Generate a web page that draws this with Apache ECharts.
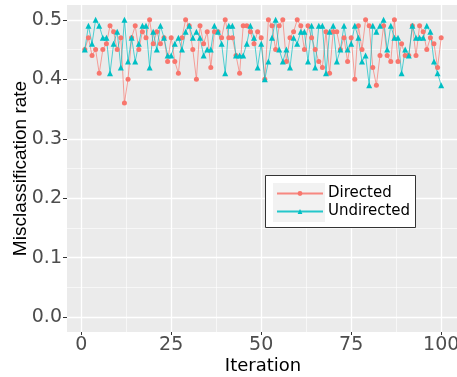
<!DOCTYPE html>
<html>
<head>
<meta charset="utf-8">
<script src="https://cdn.jsdelivr.net/npm/echarts@6/dist/echarts.min.js"></script>
<style>
html, body { margin: 0; padding: 0; background: #fff; }
#chart { width: 457px; height: 377px; }
</style>
</head>
<body>
<div id="chart"></div>
<script>
const seriesNames = ['Directed', 'Undirected']

// misclassification rate per iteration (1..100)
const directed = [
  0.45, 0.47, 0.44, 0.45, 0.41, 0.45, 0.46, 0.49, 0.48, 0.45,
  0.47, 0.36, 0.40, 0.47, 0.49, 0.45, 0.48, 0.47, 0.50, 0.46,
  0.48, 0.46, 0.47, 0.43, 0.47, 0.43, 0.41, 0.47, 0.50, 0.49,
  0.45, 0.40, 0.49, 0.46, 0.48, 0.42, 0.48, 0.48, 0.47, 0.50,
  0.47, 0.47, 0.44, 0.41, 0.49, 0.49, 0.48, 0.46, 0.48, 0.47,
  0.40, 0.50, 0.49, 0.45, 0.49, 0.50, 0.43, 0.47, 0.48, 0.50,
  0.49, 0.45, 0.49, 0.47, 0.45, 0.43, 0.42, 0.48, 0.41, 0.48,
  0.48, 0.45, 0.47, 0.43, 0.47, 0.40, 0.49, 0.45, 0.50, 0.49,
  0.42, 0.39, 0.44, 0.49, 0.44, 0.43, 0.50, 0.43, 0.46, 0.44,
  0.44, 0.49, 0.44, 0.49, 0.48, 0.45, 0.47, 0.46, 0.42, 0.47
]
const undirected = [
  0.45, 0.49, 0.46, 0.50, 0.49, 0.47, 0.47, 0.41, 0.46, 0.48,
  0.42, 0.50, 0.43, 0.47, 0.43, 0.46, 0.49, 0.49, 0.42, 0.48,
  0.45, 0.49, 0.47, 0.44, 0.44, 0.46, 0.47, 0.45, 0.48, 0.49,
  0.47, 0.48, 0.47, 0.44, 0.45, 0.45, 0.49, 0.48, 0.46, 0.41,
  0.49, 0.49, 0.44, 0.44, 0.44, 0.46, 0.49, 0.47, 0.42, 0.46,
  0.40, 0.43, 0.47, 0.50, 0.45, 0.43, 0.45, 0.42, 0.47, 0.46,
  0.48, 0.48, 0.43, 0.49, 0.42, 0.49, 0.49, 0.41, 0.48, 0.49,
  0.43, 0.45, 0.49, 0.45, 0.46, 0.49, 0.47, 0.43, 0.44, 0.39,
  0.49, 0.48, 0.49, 0.50, 0.45, 0.49, 0.47, 0.47, 0.41, 0.45,
  0.44, 0.49, 0.47, 0.47, 0.47, 0.49, 0.48, 0.43, 0.41, 0.39
]

const xTicks = [0, 25, 50, 75, 100]
const xMinorTicks = [12.5, 37.5, 62.5, 87.5]
const yTicks = [0, 0.1, 0.2, 0.3, 0.4, 0.5]
const yMinorTicks = [0.05, 0.15, 0.25, 0.35, 0.45]

const colors = ['#F8766D', '#00BFC4']
const tickFont = 'DejaVu Sans'

function toPoints(values) {
  return values.map((v, i) => [i + 1, v])
}

const chart = echarts.init(document.getElementById('chart'))

const minorAxis = function(ticks) {
  return {
    type: 'value',
    axisLine: { show: false, onZero: false },
    axisLabel: { show: false },
    axisTick: { show: false, customValues: ticks },
    splitLine: { show: true, lineStyle: { color: '#fff', width: 0.6 } }
  }
}

const option = {
  animation: false,
  grid: {
    left: 67,
    top: 5,
    width: 392,
    bottom: 45,
    outerBoundsMode: 'none',
    containLabel: false,
    show: true,
    backgroundColor: '#EBEBEB',
    borderWidth: 0
  },
  xAxis: [
    {
      type: 'value',
      min: -3.95,
      max: 104.95,
      name: 'Iteration',
      nameLocation: 'middle',
      nameGap: 25,
      nameMoveOverlap: false,
      nameTextStyle: { color: '#000', fontSize: 18, fontFamily: tickFont },
      axisLine: { show: false, onZero: false },
      axisTick: { show: true, length: 3, customValues: xTicks, lineStyle: { color: '#333' } },
      axisLabel: { customValues: xTicks, color: '#4D4D4D', fontSize: 19, fontFamily: tickFont, margin: 4 },
      splitLine: { show: true, lineStyle: { color: '#fff', width: 1.3 } }
    },
    Object.assign(minorAxis(xMinorTicks), { min: -3.95, max: 104.95, position: 'top' })
  ],
  yAxis: [
    {
      type: 'value',
      min: -0.025,
      max: 0.525,
      name: 'Misclassification rate',
      nameLocation: 'middle',
      nameGap: 37,
      nameMoveOverlap: false,
      nameTextStyle: { color: '#000', fontSize: 19, fontFamily: 'Liberation Sans' },
      axisLine: { show: false, onZero: false },
      axisTick: { show: true, length: 4, customValues: yTicks, lineStyle: { color: '#333' } },
      axisLabel: {
        customValues: yTicks,
        color: '#4D4D4D',
        fontSize: 19,
        fontFamily: tickFont,
        margin: 5,
        formatter: v => v.toFixed(1)
      },
      splitLine: { show: true, lineStyle: { color: '#fff', width: 1.3 } }
    },
    Object.assign(minorAxis(yMinorTicks), { min: -0.025, max: 0.525, position: 'right' })
  ],
  legend: {
    orient: 'vertical',
    left: 276,
    top: 186,
    padding: 0,
    itemWidth: 46,
    itemHeight: 6,
    itemGap: 3,
    z: 20,
    textStyle: { color: '#000', fontSize: 15, fontFamily: tickFont },
    data: seriesNames
  },
  graphic: [
    {
      type: 'rect',
      z: 10,
      shape: { x: 265.5, y: 175.5, width: 150, height: 52 },
      style: { fill: '#fff', stroke: '#333', lineWidth: 1 }
    },
    {
      type: 'rect',
      z: 11,
      shape: { x: 273, y: 183, width: 52, height: 39 },
      style: { fill: '#F2F2F2' }
    }
  ],
  series: [
    {
      name: seriesNames[0],
      type: 'line',
      data: toPoints(directed),
      symbol: 'circle',
      symbolSize: 5,
      color: colors[0],
      lineStyle: { width: 0.8, color: colors[0], opacity: 0.85 },
      itemStyle: { color: colors[0] }
    },
    {
      name: seriesNames[1],
      type: 'line',
      data: toPoints(undirected),
      symbol: 'triangle',
      symbolSize: 6,
      color: colors[1],
      lineStyle: { width: 0.8, color: colors[1], opacity: 0.85 },
      itemStyle: { color: colors[1] }
    }
  ]
}

chart.setOption(option)
</script>
</body>
</html>
